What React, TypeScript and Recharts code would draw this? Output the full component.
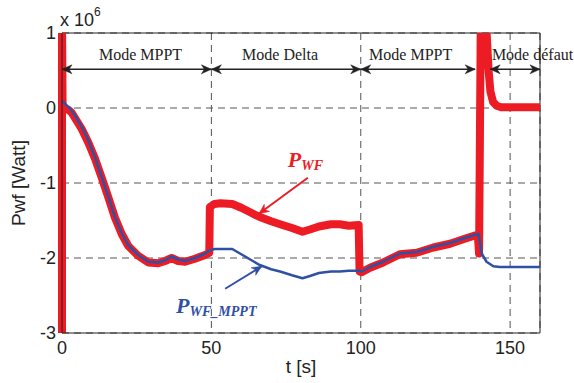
import React from 'react';
import { LineChart, Line, XAxis, YAxis, CartesianGrid, ReferenceLine, ReferenceDot } from 'recharts';

// P_WF (red, thick) in units of 1e6 W
const redTime = [0, 0, 0.2, 2, 3.2, 6.6, 8.8, 11, 13.3, 15.5, 17.7, 20, 22.2, 25.5, 28.9, 32.2, 34.5, 36.7, 38.9, 41.2, 44.5, 47.9, 49.3,
  49.5, 51, 53, 57, 60, 63, 66, 70, 73, 77, 80.5, 83, 86, 90, 93, 96, 99.3,
  99.6, 100.3, 103.1, 107.5, 113.1, 118.7, 124.3, 129.9, 134.3, 138.2, 139.2, 139.6,
  140.2, 141.8, 142.2, 142.8, 143.4, 144.3, 145.5, 147, 160];
const redPower = [-3.2, 1.2, 0.0, -0.02, -0.06, -0.28, -0.46, -0.67, -0.93, -1.19, -1.46, -1.68, -1.84, -1.97, -2.06, -2.07, -2.04, -2.0, -2.04, -2.05, -2.01, -1.96, -1.93,
  -1.32, -1.28, -1.27, -1.28, -1.33, -1.39, -1.45, -1.51, -1.55, -1.6, -1.65, -1.62, -1.58, -1.55, -1.55, -1.57, -1.56,
  -2.18, -2.19, -2.13, -2.06, -1.95, -1.93, -1.86, -1.81, -1.75, -1.7, -1.7, -1.94,
  1.3, 1.3, 0.95, 0.5, 0.22, 0.08, 0.03, 0.01, 0.01];

// P_WF_MPPT (blue, thin)
const blueTime = [0, 1, 3.2, 6.6, 8.8, 11, 13.3, 15.5, 17.7, 20, 22.2, 25.5, 28.9, 32.2, 34.5, 36.7, 38.9, 41.2, 44.5, 47.9, 49.5,
  51, 57, 60, 63, 66, 70, 73, 77, 80.5, 83, 86, 90, 93, 96, 99.6,
  100.3, 103.1, 107.5, 113.1, 118.7, 124.3, 129.9, 134.3, 138.2, 139.4, 140.5, 142.1, 144.4, 146.6, 160];
const bluePower = [0.09, 0.06, -0.03, -0.25, -0.43, -0.65, -0.92, -1.18, -1.45, -1.67, -1.83, -1.96, -2.05, -2.06, -2.03, -1.98, -2.02, -2.04, -2.0, -1.94, -1.9,
  -1.88, -1.88, -1.95, -2.02, -2.09, -2.15, -2.18, -2.23, -2.27, -2.24, -2.2, -2.18, -2.18, -2.17, -2.17,
  -2.18, -2.12, -2.05, -1.94, -1.92, -1.85, -1.8, -1.74, -1.69, -1.68, -1.94, -2.05, -2.11, -2.12, -2.12];

const xTicks = [0, 50, 100, 150];
const yTicks = [-3, -2, -1, 0, 1];

const modeNames = ['Mode MPPT', 'Mode Delta', 'Mode MPPT', 'Mode défaut'];
const modeStart = [0, 50, 100, 143.3];
const modeEnd = [50, 100, 138.3, 160];

// annotation placement (data coords)
const MODE_ARROW_Y = 0.516;
const MODE_TEXT_Y = 0.64;
const modeTextX = [26.3, 73, 116.7, 157.5];

const RED = '#ED1C24';
const BLUE = '#2F50A3';
const INK = '#222';

const redData = redTime.map((t, i) => ({ t, p: redPower[i] }));
const blueData = blueTime.map((t, i) => ({ t, p: bluePower[i] }));

const head = (x: number, y: number, ang: number, color: string, len = 10, half = 4.5) => {
  const c = Math.cos(ang), s = Math.sin(ang);
  const bx = x - len * c, by = y - len * s;
  const nx = x - len * 0.7 * c, ny = y - len * 0.7 * s;
  const px = -s, py = c;
  const pts = [
    [x, y], [bx + px * half, by + py * half], [nx, ny], [bx - px * half, by - py * half],
  ].map(p => p.join(',')).join(' ');
  return <polygon points={pts} fill={color} stroke={color} strokeWidth={0.5} />;
};

const arrowShape = (color: string, both: boolean, width: number) => (props: any) => {
  const { x1, y1, x2, y2 } = props;
  const ang = Math.atan2(y2 - y1, x2 - x1);
  return (
    <g>
      <line x1={x1} y1={y1} x2={x2} y2={y2} stroke={color} strokeWidth={width} />
      {head(x2, y2, ang, color)}
      {both && head(x1, y1, ang + Math.PI, color)}
    </g>
  );
};

const textShape = (label: string) => (props: any) => (
  <text x={props.cx} y={props.cy} textAnchor="middle" fontFamily="'Liberation Serif', serif" fontSize={16} fill={INK}>
    {label}
  </text>
);

const powerLabel = (sub: string, color: string) => (props: any) => (
  <text x={props.cx} y={props.cy} fontFamily="'Liberation Serif', serif" fontStyle="italic" fontWeight="bold" fill={color}>
    <tspan fontSize={22}>P</tspan>
    <tspan fontSize={14} dy={3}>{sub}</tspan>
  </text>
);

const exponentShape = (props: any) => (
  <text x={props.cx - 2} y={props.cy - 7} fontFamily="'Liberation Sans', Arial, sans-serif" fontSize={18} fill={INK}>
    x 10<tspan fontSize={12} dy={-10}>6</tspan>
  </text>
);

const tickStyle = { fill: INK, fontSize: 18, fontFamily: "'Liberation Sans', Arial, sans-serif" };

export default function App() {
  return (
    <div style={{ position: 'absolute', left: 0, top: 0, width: 574, height: 383, background: '#fff' }}>
      <LineChart width={574} height={383} margin={{ top: 33, right: 34, bottom: 0, left: 0 }}>
        <CartesianGrid stroke="#555" strokeDasharray="7 5" />
        <XAxis
          dataKey="t"
          type="number"
          domain={[0, 160]}
          ticks={xTicks}
          height={50}
          tickLine={false}
          axisLine={{ stroke: INK }}
          tick={tickStyle}
          label={{ value: 't [s]', position: 'insideBottom', offset: 10, style: { fill: INK, fontSize: 19, fontFamily: "'Liberation Sans', Arial, sans-serif" } }}
        />
        <YAxis
          dataKey="p"
          type="number"
          domain={[-3, 1]}
          ticks={yTicks}
          width={62}
          allowDataOverflow
          tickLine={false}
          tickMargin={0}
          axisLine={{ stroke: INK }}
          tick={tickStyle}
          label={{ value: 'Pwf [Watt]', angle: -90, position: 'insideLeft', offset: 18, style: { textAnchor: 'middle', fill: INK, fontSize: 19, fontFamily: "'Liberation Sans', Arial, sans-serif" } }}
        />
        <ReferenceLine y={1} stroke={INK} strokeWidth={1} />
        <ReferenceLine x={160} stroke={INK} strokeWidth={1} />
        <Line data={redData} dataKey="p" type="linear" stroke={RED} strokeWidth={8} strokeLinejoin="round" strokeLinecap="butt" dot={false} isAnimationActive={false} />
        <Line data={blueData} dataKey="p" type="linear" stroke={BLUE} strokeWidth={2.5} strokeLinejoin="round" dot={false} isAnimationActive={false} />
        {modeNames.map((name, i) => (
          <ReferenceLine
            key={'a' + i}
            ifOverflow="visible"
            segment={[{ x: modeStart[i], y: MODE_ARROW_Y }, { x: modeEnd[i], y: MODE_ARROW_Y }]}
            shape={arrowShape(INK, true, 1.6)}
          />
        ))}
        {modeNames.map((name, i) => (
          <ReferenceDot key={'t' + i} x={modeTextX[i]} y={MODE_TEXT_Y} ifOverflow="visible" shape={textShape(name)} />
        ))}
        <ReferenceLine ifOverflow="visible" segment={[{ x: 82.3, y: -0.93 }, { x: 65.9, y: -1.41 }]} shape={arrowShape(RED, false, 2)} />
        <ReferenceLine ifOverflow="visible" segment={[{ x: 54.6, y: -2.41 }, { x: 66.9, y: -2.11 }]} shape={arrowShape(BLUE, false, 2)} />
        <ReferenceDot x={75.6} y={-0.79} ifOverflow="visible" shape={powerLabel('WF', RED)} />
        <ReferenceDot x={38.2} y={-2.73} ifOverflow="visible" shape={powerLabel('WF_MPPT', BLUE)} />
        <ReferenceDot x={0} y={1} ifOverflow="visible" shape={exponentShape} />
      </LineChart>
    </div>
  );
}
